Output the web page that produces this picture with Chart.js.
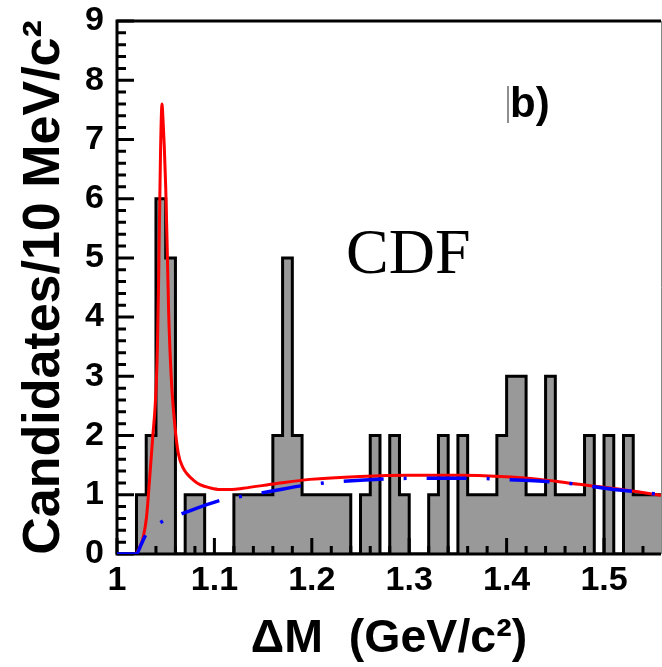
<!DOCTYPE html>
<html>
<head>
<meta charset="utf-8">
<script src="https://cdn.jsdelivr.net/npm/chart.js@4.4.1/dist/chart.umd.min.js"></script>
<style>
  html, body { margin: 0; padding: 0; background: #fff; }
  #wrap { position: relative; width: 662px; height: 667px; }
</style>
</head>
<body>
<div id="wrap"><canvas id="c" width="662" height="667"></canvas></div>
<script>
// histogram, 10 MeV bins from 1.00 GeV
const binStart = 1.0;
const binWidth = 0.01;
const counts = [
  0, 0, 1, 2, 6, 5, 0, 1, 1, 0,
  0, 0, 1, 1, 1, 1, 2, 5, 2, 1,
  1, 1, 1, 1, 0, 1, 2, 0, 2, 1,
  0, 0, 1, 2, 0, 2, 1, 1, 1, 2,
  3, 3, 1, 1, 3, 1, 1, 1, 2, 0,
  2, 0, 2, 1, 1, 1
];

// full fit (red)
const fitX = [1.0195, 1.0236, 1.0270, 1.0303, 1.0334, 1.0367, 1.0390, 1.0405, 1.0415, 1.0425,
  1.0435, 1.0447, 1.0462, 1.0472, 1.0485, 1.0500, 1.0515, 1.0530, 1.0545, 1.0565,
  1.0595, 1.0629, 1.0680, 1.0716, 1.0790, 1.0852, 1.0950, 1.1057, 1.1180, 1.1294,
  1.1640, 1.1980, 1.2495, 1.3008, 1.3522, 1.3932, 1.4343, 1.4671, 1.5040, 1.5349, 1.5585];
const fitY = [0, 0.12, 0.29, 0.62, 1.25, 1.98, 2.45, 2.95, 3.5, 4.4,
  5.5, 6.8, 7.6, 7.35, 6.9, 6.2, 5.2, 4.1, 3.4, 2.75,
  2.15, 1.70, 1.45, 1.36, 1.24, 1.17, 1.12, 1.09, 1.09, 1.11,
  1.19, 1.26, 1.31, 1.33, 1.33, 1.31, 1.26, 1.19, 1.12, 1.05, 0.99];

// background part (blue dashed)
const bkgX = [1.0, 1.0195, 1.0253, 1.0305, 1.0465, 1.0668, 1.1070, 1.1294, 1.1550, 1.1927,
  1.2195, 1.2546, 1.2800, 1.3100, 1.3620, 1.4100, 1.4370, 1.4650, 1.5100, 1.5350, 1.5585];
const bkgY = [0, 0, 0.18, 0.35, 0.55, 0.68, 0.91, 0.98, 1.05, 1.16,
  1.21, 1.25, 1.27, 1.28, 1.28, 1.25, 1.23, 1.19, 1.09, 1.05, 1.0];

const xTicks = [1.0, 1.1, 1.2, 1.3, 1.4, 1.5];
const xTickLabels = ['1', '1.1', '1.2', '1.3', '1.4', '1.5'];
const yTicks = [0, 1, 2, 3, 4, 5, 6, 7, 8, 9];
const yTickLabels = ['0', '1', '2', '3', '4', '5', '6', '7', '8', '9'];

const histPoints = counts.map((c, i) => ({ x: binStart + i * binWidth, y: c }));
histPoints.push({ x: binStart + counts.length * binWidth, y: counts[counts.length - 1] });

const fitPoints = fitX.map((x, i) => ({ x: x, y: fitY[i] }));
const bkgPoints = bkgX.map((x, i) => ({ x: x, y: bkgY[i] }));

const SANS = '"Liberation Sans", Arial, Helvetica, sans-serif';

// inward ticks and frame, drawn over the histogram but under the curves
const frameTicks = {
  id: 'frameTicks',
  afterDatasetDraw(chart, args) {
    if (args.index !== 2) return;
    const { ctx, chartArea: a, scales: { x, y } } = chart;
    ctx.save();
    ctx.strokeStyle = '#000';
    ctx.lineWidth = 3;
    ctx.beginPath();
    for (let k = 0; k <= 45; k++) {
      const py = y.getPixelForValue(k * 0.2);
      const len = k % 5 === 0 ? 17 : 9;
      ctx.moveTo(a.left, py);
      ctx.lineTo(a.left + len, py);
    }
    for (let k = 0; k <= 27; k++) {
      const px = x.getPixelForValue(1 + k * 0.02);
      const len = k % 5 === 0 ? 16 : 8;
      ctx.moveTo(px, a.bottom);
      ctx.lineTo(px, a.bottom - len);
    }
    ctx.stroke();

    ctx.beginPath();
    ctx.moveTo(a.right, a.top);
    ctx.lineTo(a.left, a.top);
    ctx.lineTo(a.left, a.bottom);
    ctx.lineTo(a.right, a.bottom);
    ctx.stroke();

    ctx.strokeStyle = '#888';
    ctx.lineWidth = 1;
    ctx.beginPath();
    ctx.moveTo(a.right + 0.5, a.top);
    ctx.lineTo(a.right + 0.5, a.bottom);
    ctx.stroke();

    // panel label (with the thin bar left of it) and experiment name
    ctx.strokeStyle = '#444';
    ctx.lineWidth = 1.2;
    ctx.beginPath();
    ctx.moveTo(508, 86);
    ctx.lineTo(508, 123);
    ctx.stroke();
    ctx.fillStyle = '#000';
    ctx.textBaseline = 'alphabetic';
    ctx.textAlign = 'left';
    ctx.font = 'bold 42px ' + SANS;
    ctx.fillText('b)', 510, 117);
    ctx.font = '64px "Liberation Serif", "Times New Roman", serif';
    ctx.fillText('CDF', 346, 273);
    ctx.restore();
  }
};

new Chart(document.getElementById('c'), {
  type: 'line',
  data: {
    datasets: [
      {
        label: 'fit',
        data: fitPoints,
        borderColor: '#ff0000',
        borderWidth: 3,
        pointRadius: 0,
        fill: false,
        cubicInterpolationMode: 'monotone',
        order: 2
      },
      {
        label: 'background',
        data: bkgPoints,
        borderColor: '#0000ff',
        borderWidth: 3.5,
        borderDash: [40, 20, 3, 20],
        borderDashOffset: 0,
        pointRadius: 0,
        fill: false,
        cubicInterpolationMode: 'monotone',
        order: 1
      },
      {
        label: 'data',
        data: histPoints,
        stepped: true,
        borderColor: '#000',
        borderWidth: 3,
        backgroundColor: '#999999',
        pointRadius: 0,
        fill: 'origin',
        order: 3
      }
    ]
  },
  options: {
    responsive: false,
    animation: false,
    layout: { padding: { top: 21, right: 1, left: 0, bottom: 0 } },
    plugins: {
      legend: { display: false },
      tooltip: { enabled: false }
    },
    scales: {
      x: {
        type: 'linear',
        min: 1.0,
        max: 1.5585,
        afterBuildTicks: (s) => { s.ticks = xTicks.map(v => ({ value: v })); },
        afterFit: (s) => { s.height = 113; s.paddingLeft = 0; s.paddingRight = 0; },
        grid: { display: false, drawTicks: false },
        border: { display: false },
        ticks: {
          padding: 6,
          maxRotation: 0,
          autoSkip: false,
          color: '#000',
          font: { family: SANS, size: 34, weight: 'bold' },
          callback: (v) => xTickLabels[xTicks.indexOf(v)] ?? ''
        },
        title: {
          display: true,
          text: '\u0394M  (GeV/c\u00B2)',
          color: '#000',
          font: { family: SANS, size: 46.5, weight: 'bold', lineHeight: 1 },
          padding: { top: 5, bottom: 5 }
        }
      },
      y: {
        type: 'linear',
        min: 0,
        max: 9,
        afterBuildTicks: (s) => { s.ticks = yTicks.map(v => ({ value: v })); },
        afterFit: (s) => { s.width = 117; s.paddingTop = 0; s.paddingBottom = 0; },
        grid: { display: false, drawTicks: false },
        border: { display: false },
        ticks: {
          padding: 13,
          color: '#000',
          font: { family: SANS, size: 34, weight: 'bold' },
          callback: (v) => yTickLabels[yTicks.indexOf(v)] ?? ''
        },
        title: {
          display: true,
          text: 'Candidates/10 MeV/c\u00B2',
          color: '#000',
          font: { family: SANS, size: 52, weight: 'bold', lineHeight: 1 },
          padding: { top: 19, bottom: 0 }
        }
      }
    }
  },
  plugins: [frameTicks]
});
</script>
</body>
</html>
